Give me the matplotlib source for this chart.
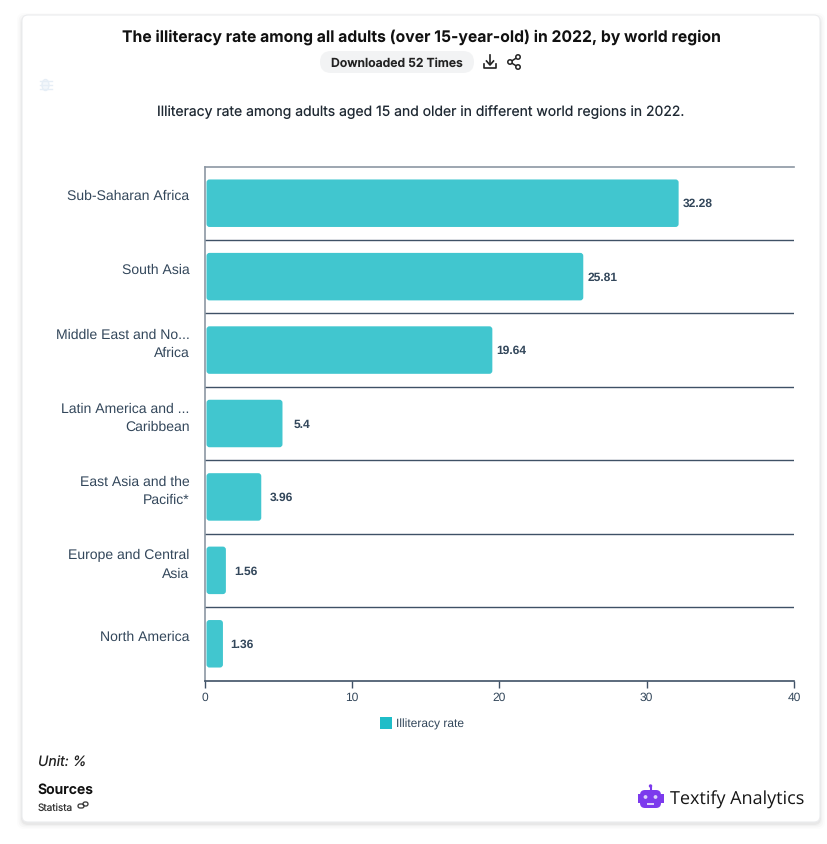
import matplotlib
matplotlib.use("Agg")
import matplotlib.pyplot as plt
from matplotlib.patches import FancyBboxPatch, Rectangle, Circle, Ellipse

regions = ["Sub-Saharan Africa", "South Asia", "Middle East and No...\nAfrica",
           "Latin America and ...\nCaribbean", "East Asia and the\nPacific*",
           "Europe and Central\nAsia", "North America"]
rates = [32.28, 25.81, 19.64, 5.4, 3.96, 1.56, 1.36]
value_labels = ["32.28", "25.81", "19.64", "5.4", "3.96", "1.56", "1.36"]
x_ticks = [0, 10, 20, 30, 40]
series_name = "Illiteracy rate"
title = "The illiteracy rate among all adults (over 15-year-old) in 2022, by world region"
subtitle = "Illiteracy rate among adults aged 15 and older in different world regions in 2022."

W, H = 827, 845
DPI = 100
BAR = "#41C6CF"
SPINE = "#3F5166"
TXT = "#33475B"
plt.rcParams["font.family"] = ["Inter", "DejaVu Sans"]
plt.rcParams["text.hinting"] = "none"
plt.rcParams["text.hinting_factor"] = 1

fig = plt.figure(figsize=(W / DPI, H / DPI), dpi=DPI, facecolor="white")
bg = fig.add_axes([0, 0, 1, 1])
bg.set_xlim(0, W); bg.set_ylim(H, 0); bg.axis("off")

# card with soft shadow
for grow, alpha in [(5, .012), (3.5, .018), (2, .025), (1, .035)]:
    bg.add_patch(FancyBboxPatch((22 - grow, 17 - grow + 2), 798 + 2 * grow, 806 + 2 * grow,
                                boxstyle="round,pad=0,rounding_size=7", fc="#000000", ec="none", alpha=alpha))
bg.add_patch(FancyBboxPatch((22, 16), 798, 807, boxstyle="round,pad=0,rounding_size=6",
                            fc="white", ec="#EBECEE", lw=.8))

bg.text(421.5, 37, title, ha="center", va="center", fontsize=11.35, fontweight="bold", color="#111111")
bg.add_patch(FancyBboxPatch((320, 52), 154, 22, boxstyle="round,pad=0,rounding_size=11", fc="#F2F3F4", ec="none"))
bg.text(397, 63.5, "Downloaded 52 Times", ha="center", va="center", fontsize=8.8, fontweight="semibold", color="#222222")
bg.text(421, 112, subtitle, ha="center", va="center", fontsize=10.05, color="#1F2933")

# download icon
bg.plot([490, 490], [56, 65], color="#222222", lw=1.2)
bg.plot([486.5, 490, 493.5], [62, 66, 62], color="#222222", lw=1.2)
bg.plot([484, 484, 496, 496], [65, 69, 69, 65], color="#222222", lw=1.2)
# share icon
bg.plot([518, 510, 518], [58, 63, 68], color="#222222", lw=1.1)
for cx, cy in [(518, 58), (510, 63), (518, 68)]:
    bg.add_patch(Circle((cx, cy), 2.2, fc="white", ec="#222222", lw=1.1, zorder=3))
# faint bug icon
bg.add_patch(Ellipse((45.5, 86), 7, 11, fc="#F3F7FB", ec="#E6EEF6", lw=1))
for yy in (82, 86, 90):
    bg.plot([39.5, 51.5], [yy, yy], color="#E6EEF6", lw=1)

# chart
ax = fig.add_axes([204.5 / W, 1 - 681.5 / H, (794 - 204.5) / W, (681.5 - 167.5) / H])
ax.set_facecolor("none")
n = len(regions)
ax.set_xlim(0, 40)
ax.set_ylim(n, 0)
ppx = 40 / 589.5
ppy = n / 514
bar_h = 47.5 * ppy
r_px = 3
label_gaps = [.2, .2, .13, .67, .47, .45, .37]
for i, (v, lab, gap) in enumerate(zip(rates, value_labels, label_gaps)):
    c = i + 0.5
    x0 = 2 * ppx
    w = v - 2 * ppx - 1.6 * ppx
    ax.add_patch(FancyBboxPatch((x0, c - bar_h / 2), w, bar_h,
                                boxstyle=f"round,pad=0,rounding_size={r_px * ppx}",
                                mutation_aspect=ppy / ppx, fc=BAR, ec="none", zorder=2))
    ax.text(v + gap, c, lab, ha="left", va="center", fontsize=8.6, fontweight="bold",
            color=TXT, family=["Liberation Sans"])
for i in range(1, n):
    ax.axhline(i, color=SPINE, lw=1, zorder=1)
for s in ("top", "right"):
    ax.spines[s].set_visible(False)
ax.axhline(0, color="#8C97A3", lw=1.2, zorder=1, clip_on=False)
ax.spines["bottom"].set_color(SPINE); ax.spines["bottom"].set_linewidth(1.2)
ax.spines["left"].set_color("#8C97A3"); ax.spines["left"].set_linewidth(1.2)
ax.set_xticks(x_ticks)
ax.tick_params(axis="x", length=5, width=1, color=SPINE, labelcolor=TXT, labelsize=8.8, pad=3)
ax.set_yticks([])
for t in ax.get_xticklabels():
    t.set_family(["Liberation Sans"])
y_offsets = [196, 270, 344, 418, 491.5, 565, 637]
for lab, py in zip(regions, y_offsets):
    bg.text(189.5, py, lab, ha="right", va="center", fontsize=10.05, color=TXT,
            family=["Liberation Sans"], linespacing=1.5)

# legend
bg.add_patch(Rectangle((380, 718), 12, 12, fc="#1FBDC8", ec="none"))
bg.text(395.5, 724.5, series_name, ha="left", va="center", fontsize=8.6, color=TXT, family=["Liberation Sans"])

# footer
bg.text(38, 762.5, "Unit: %", ha="left", va="center", fontsize=10.1, style="italic", color="#222222")
bg.text(37.5, 790.5, "Sources", ha="left", va="center", fontsize=10.1, fontweight="semibold", color="#111111")
bg.text(38, 808, "Statista", ha="left", va="center", fontsize=7.2, color="#333333")
bg.add_patch(FancyBboxPatch((78, 805), 6, 4, boxstyle="round,pad=0,rounding_size=2", fc="none", ec="#333333", lw=.9))
bg.add_patch(FancyBboxPatch((83, 803), 5, 4, boxstyle="round,pad=0,rounding_size=2", fc="none", ec="#333333", lw=.9))

# logo
P = "#7C3AED"
bg.add_patch(FancyBboxPatch((640, 791), 21, 18, boxstyle="round,pad=0,rounding_size=5", fc=P, ec="none"))
bg.add_patch(Rectangle((637.5, 795), 3, 9, fc=P, ec="none"))
bg.add_patch(Rectangle((660.5, 795), 3, 9, fc=P, ec="none"))
bg.plot([650.5, 650.5], [787, 791], color=P, lw=1.5)
bg.add_patch(Circle((650.5, 787), 1.7, fc=P, ec="none"))
bg.add_patch(Circle((645.5, 798), 1.9, fc="#DCD0FA", ec="none"))
bg.add_patch(Circle((655.5, 798), 1.9, fc="#DCD0FA", ec="none"))
bg.add_patch(Rectangle((647, 804), 7, 1.6, fc="#DCD0FA", ec="none"))
bg.text(669.5, 799.5, "Textify Analytics", ha="left", va="center", fontsize=13.1, fontweight="medium",
        color="#161616", family=["Open Sans", "DejaVu Sans"])

fig.savefig("out.png", dpi=DPI, facecolor="white")
